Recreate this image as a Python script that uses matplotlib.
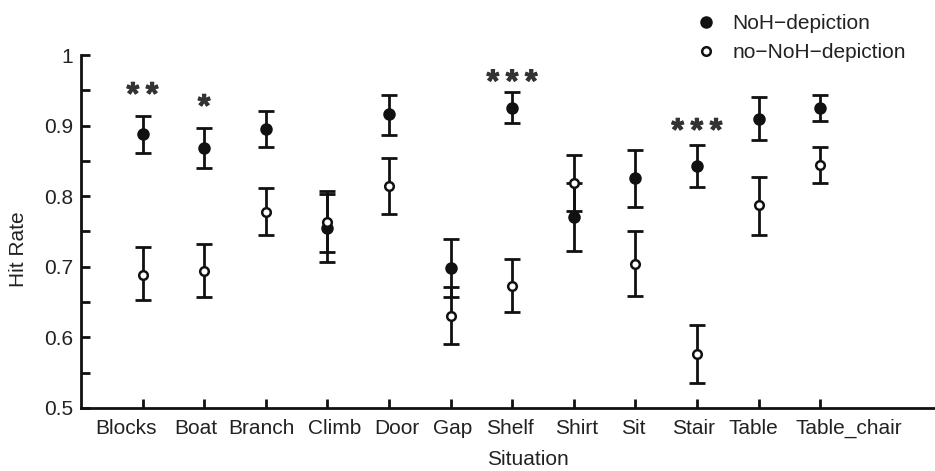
import numpy as np
import matplotlib
matplotlib.use("Agg")
import matplotlib.pyplot as plt
import matplotlib.patheffects as pe
from matplotlib.ticker import FixedLocator

plt.rcParams['font.family'] = ['Liberation Sans', 'DejaVu Sans']

situations = ["Blocks", "Boat", "Branch", "Climb", "Door", "Gap",
              "Shelf", "Shirt", "Sit", "Stair", "Table", "Table_chair"]

# mean hit rate and error-bar limits, NoH-depiction
noh_mean = [0.888, 0.868, 0.895, 0.755, 0.916, 0.698, 0.925, 0.771, 0.826, 0.843, 0.910, 0.925]
noh_low  = [0.861, 0.840, 0.869, 0.707, 0.887, 0.657, 0.903, 0.723, 0.785, 0.813, 0.880, 0.906]
noh_high = [0.914, 0.896, 0.921, 0.803, 0.944, 0.740, 0.947, 0.819, 0.866, 0.873, 0.940, 0.944]

# mean hit rate and error-bar limits, no-NoH-depiction
non_mean = [0.689, 0.694, 0.778, 0.764, 0.815, 0.631, 0.673, 0.819, 0.704, 0.576, 0.787, 0.844]
non_low  = [0.653, 0.657, 0.745, 0.721, 0.775, 0.591, 0.636, 0.779, 0.658, 0.535, 0.745, 0.818]
non_high = [0.728, 0.732, 0.812, 0.807, 0.854, 0.671, 0.711, 0.859, 0.751, 0.617, 0.827, 0.870]

# significance stars: situation index, label, height
star_idx = [0, 1, 6, 9]
star_txt = ["**", "*", "***", "***"]
star_y   = [0.940, 0.923, 0.958, 0.889]

# horizontal nudge of each category label (pixels)
label_shift = [-16.5, -8.3, -4, 7, 7.7, 2, -2, 2.7, -2.4, -3, -4.9, 29]

x = np.arange(1, len(situations) + 1)
ink = '#111111'
px = 61.6  # pixels per category step

fig = plt.figure(figsize=(9.35, 4.71), dpi=100)
ax = fig.add_axes([0.0866, 0.1338, 0.9134, 0.7494])

def draw(mean, low, high, face, label):
    mean = np.array(mean)
    err = [mean - np.array(low), np.array(high) - mean]
    ax.errorbar(x, mean, yerr=err, fmt='none', ecolor=ink, elinewidth=2.0,
                capsize=5.6, capthick=2.0, zorder=2)
    h, = ax.plot(x, mean, 'o', ms=7.2 if face == ink else 6.2,
                 mfc=face, mec=ink, mew=1.8, ls='none', zorder=3, label=label)
    return h

h1 = draw(noh_mean, noh_low, noh_high, ink, "NoH\u2212depiction")
h2 = draw(non_mean, non_low, non_high, 'white', "no\u2212NoH\u2212depiction")

# stars drawn in a monospaced face so they sit spaced apart
for i, t, yy in zip(star_idx, star_txt, star_y):
    ax.text(x[i], yy, t, ha='center', va='center', fontsize=23,
            fontweight='bold', family='Liberation Mono', color='#333333',
            path_effects=[pe.withStroke(linewidth=0.8, foreground='#333333')])

ax.set_xlim(0, 854 / px)
ax.set_ylim(0.5, 1.0)
ax.set_xticks(x)
ax.set_xticklabels([])
ax.yaxis.set_major_locator(FixedLocator([0.5, 0.6, 0.7, 0.8, 0.9, 1.0]))
ax.set_yticklabels(["0.5", "0.6", "0.7", "0.8", "0.9", "1"])
ax.yaxis.set_minor_locator(FixedLocator([0.55, 0.65, 0.75, 0.85, 0.95]))

# category names under the axis, nudged sideways
tr = ax.get_xaxis_transform()
for xi, name, dx in zip(x, situations, label_shift):
    ax.text(xi + dx / px, -0.031, name, transform=tr, ha='center', va='top',
            fontsize=15, color='#222222', clip_on=False)

for side in ['top', 'right']:
    ax.spines[side].set_visible(False)
for side in ['left', 'bottom']:
    ax.spines[side].set_linewidth(2.0)
    ax.spines[side].set_color(ink)

ax.tick_params(axis='both', which='both', direction='in', length=6.5,
               width=2.0, color=ink, labelsize=15, labelcolor='#222222')
ax.tick_params(axis='y', pad=5.8)

ax.set_xlabel("Situation", fontsize=15, color='#222222')
ax.set_ylabel("Hit Rate", fontsize=15, color='#222222')
ax.xaxis.set_label_coords(0.5228, -0.119)
ax.yaxis.set_label_coords(-0.0617, 0.45)

leg = fig.legend(handles=[h1, h2], loc='upper left',
                 bbox_to_anchor=(696 / 935, 1 - 14 / 471),
                 frameon=False, fontsize=15, handlelength=1.0,
                 handletextpad=0.75, labelspacing=0.49, borderpad=0,
                 borderaxespad=0)
for t in leg.get_texts():
    t.set_color('#222222')

fig.savefig("out.png", dpi=100)
